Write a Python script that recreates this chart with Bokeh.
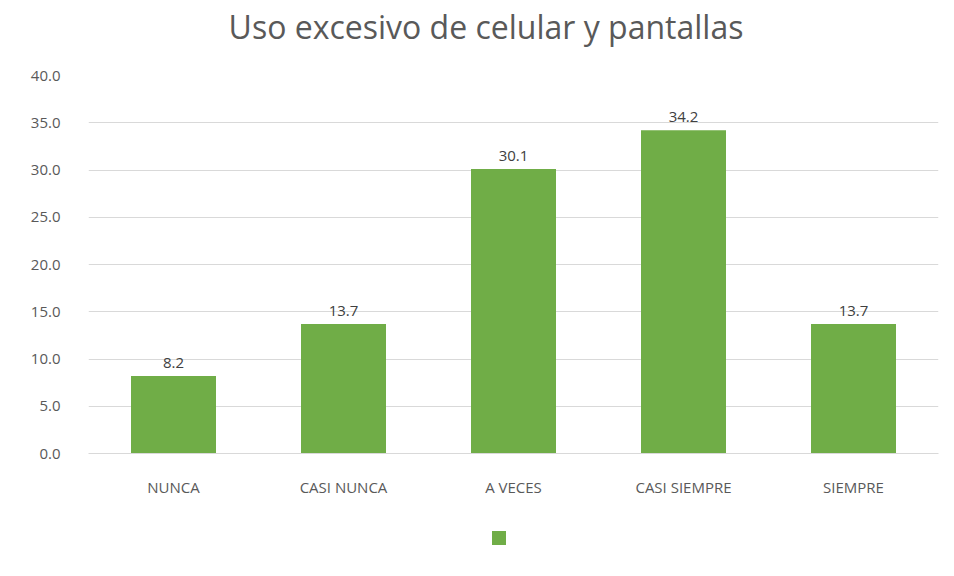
from bokeh.plotting import figure
from bokeh.models import ColumnDataSource, Range1d, SingleIntervalTicker, NumeralTickFormatter, LabelSet, Div
from bokeh.layouts import column
from bokeh.core.properties import value
from bokeh.embed import file_html
from bokeh.resources import INLINE

categories = ["NUNCA", "CASI NUNCA", "A VECES", "CASI SIEMPRE", "SIEMPRE"]
values = [8.2, 13.7, 30.1, 34.2, 13.7]
value_labels = ["8.2", "13.7", "30.1", "34.2", "13.7"]
title_text = "Uso excesivo de celular y pantallas"
bar_color = "#70AD47"

src = ColumnDataSource(dict(cat=categories, val=values, lab=value_labels))

title_div = Div(text=title_text, width=946, height=44,
                styles={"font-family": "Open Sans", "font-size": "32px", "color": "#595959",
                        "text-align": "center", "line-height": "44px", "padding-left": "16px",
                        "box-sizing": "border-box"})

p = figure(x_range=categories, y_range=Range1d(0, 40), frame_width=850, frame_height=378,
           output_backend="svg", toolbar_location=None,
           min_border_left=88, min_border_right=8, min_border_top=21, min_border_bottom=66)
p.outline_line_color = None
p.background_fill_color = "white"

p.vbar(x="cat", top="val", width=0.5, source=src, fill_color=bar_color, line_color=None)

labels = LabelSet(x="cat", y="val", text="lab", source=src, text_align="center", y_offset=8,
                  text_font_size="15px", text_color="#404040", text_font=value("Open Sans"))
p.add_layout(labels)

p.yaxis.ticker = SingleIntervalTicker(interval=5)
p.yaxis.formatter = NumeralTickFormatter(format="0.0")
p.yaxis.axis_line_color = None
p.yaxis.major_tick_line_color = None
p.yaxis.minor_tick_line_color = None
p.yaxis.major_label_standoff = 22
p.yaxis.major_label_text_font_size = "15px"
p.yaxis.major_label_text_color = "#595959"
p.yaxis.major_label_text_font = "Open Sans"

p.xaxis.axis_line_color = "#d9d9d9"
p.xaxis.major_tick_line_color = None
p.xaxis.minor_tick_line_color = None
p.xaxis.major_label_standoff = 17
p.xaxis.major_label_text_font_size = "15px"
p.xaxis.major_label_text_color = "#595959"
p.xaxis.major_label_text_font = "Open Sans"

p.xgrid.grid_line_color = None
p.ygrid.grid_line_color = "#d9d9d9"
p.ygrid.grid_line_width = 1

legend_div = Div(text='<span style="display:inline-block;width:14px;height:14px;background:%s;vertical-align:middle"></span>' % bar_color,
                 width=946, height=26,
                 styles={"text-align": "center", "line-height": "26px", "padding-left": "42px",
                         "box-sizing": "border-box"})

layout = column(title_div, p, legend_div, spacing=0)

open("out.html", "w").write(file_html(layout, INLINE))
